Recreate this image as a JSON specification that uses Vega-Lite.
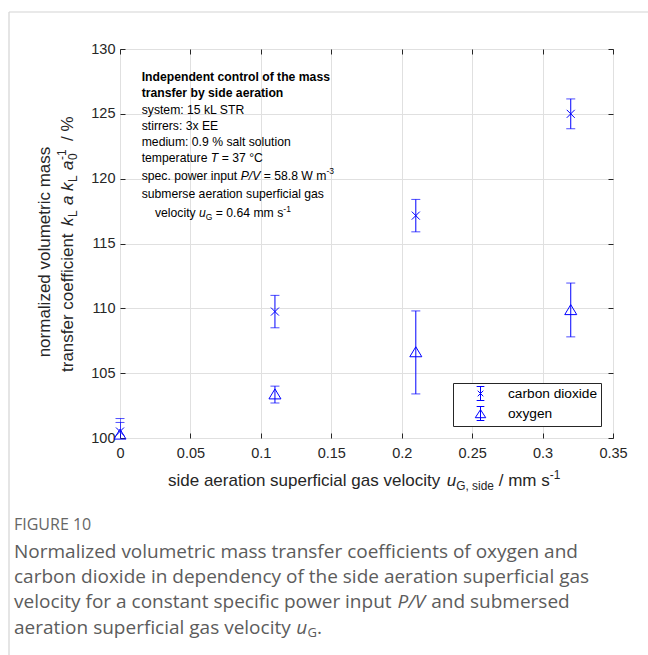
{
  "$schema": "https://vega.github.io/schema/vega-lite/v6.json",
  "width": 493,
  "height": 389,
  "autosize": {"type": "none"},
  "padding": {"left": 120, "top": 49, "right": 35, "bottom": 217},
  "background": "white",
  "config": {"view": {"stroke": "#262626", "strokeWidth": 1}, "font": "Liberation Sans"},
  "datasets": {
    "pts": [
      {"gas": "carbon dioxide", "x": 0, "y": 100.5, "lo": 99.5, "hi": 101.5},
      {"gas": "carbon dioxide", "x": 0.11, "y": 109.75, "lo": 108.5, "hi": 111.0},
      {"gas": "carbon dioxide", "x": 0.21, "y": 117.15, "lo": 115.9, "hi": 118.4},
      {"gas": "carbon dioxide", "x": 0.32, "y": 125.0, "lo": 123.85, "hi": 126.15},
      {"gas": "oxygen", "x": 0, "y": 100.3, "lo": 99.4, "hi": 101.2},
      {"gas": "oxygen", "x": 0.11, "y": 103.4, "lo": 102.7, "hi": 104.0},
      {"gas": "oxygen", "x": 0.21, "y": 106.65, "lo": 103.4, "hi": 109.8},
      {"gas": "oxygen", "x": 0.32, "y": 109.9, "lo": 107.8, "hi": 111.95}
    ],
    "frame": [
      {"x": -0.0788, "x2": 0.37485, "y": 132.853, "y2": 132.853},
      {"x": -0.0788, "x2": -0.0788, "y": 132.853, "y2": 83.266}
    ],
    "ann_bold": [
      {"x": 0.01541, "y": 127.84, "t": "Independent control of the mass"},
      {"x": 0.01541, "y": 126.61, "t": "transfer by side aeration"}
    ],
    "ann_reg": [
      {"x": 0.01541, "y": 125.30, "t": "system: 15 kL STR"},
      {"x": 0.01541, "y": 124.06, "t": "stirrers: 3x EE"},
      {"x": 0.01541, "y": 122.83, "t": "medium: 0.9 % salt solution"},
      {"x": 0.01541, "y": 121.59, "t": "temperature"},
      {"x": 0.07220, "y": 121.59, "t": "= 37 °C"},
      {"x": 0.01541, "y": 120.21, "t": "spec. power input"},
      {"x": 0.10206, "y": 120.21, "t": "= 58.8 W m"},
      {"x": 0.01541, "y": 118.82, "t": "submerse aeration superficial gas"},
      {"x": 0.02485, "y": 117.35, "t": "velocity"},
      {"x": 0.06804, "y": 117.35, "t": "= 0.64 mm s"}
    ],
    "ann_it": [
      {"x": 0.06451, "y": 121.59, "t": "T"},
      {"x": 0.08569, "y": 120.21, "t": "P/V"},
      {"x": 0.05613, "y": 117.35, "t": "u"}
    ],
    "ann_sub": [
      {"x": 0.06094, "y": 117.35, "t": "G"}
    ],
    "ann_sup": [
      {"x": 0.14657, "y": 120.21, "t": "-3"},
      {"x": 0.11593, "y": 117.35, "t": "-1"}
    ],
    "xt_reg": [
      {"x": 0.03408, "y": 96.685, "t": "side aeration superficial gas velocity"},
      {"x": 0.26885, "y": 96.685, "t": "/ mm s"}
    ],
    "xt_it": [{"x": 0.23201, "y": 96.685, "t": "u"}],
    "xt_sub": [{"x": 0.23872, "y": 96.685, "t": "G, side"}],
    "xt_sup": [{"x": 0.30506, "y": 96.685, "t": "-1"}],
    "yt_reg": [
      {"x": -0.05325, "y": 106.22, "t": "normalized volumetric mass"},
      {"x": -0.03692, "y": 105.09, "t": "transfer coefficient"},
      {"x": -0.03692, "y": 122.91, "t": "/ %"}
    ],
    "yt_it": [
      {"x": -0.03692, "y": 116.35, "t": "k"},
      {"x": -0.03692, "y": 117.97, "t": "a"},
      {"x": -0.03692, "y": 119.05, "t": "k"},
      {"x": -0.03692, "y": 120.67, "t": "a"}
    ],
    "yt_sub": [
      {"x": -0.03692, "y": 117.04, "t": "L"},
      {"x": -0.03692, "y": 119.74, "t": "L"},
      {"x": -0.03692, "y": 121.44, "t": "0"}
    ],
    "yt_sup": [
      {"x": -0.03692, "y": 121.44, "t": "-1"}
    ],
    "cap_fig": [{"x": -0.07525, "y": 93.29, "t": "FIGURE 10"}],
    "cap_reg": [
      {"x": -0.07525, "y": 91.21, "t": "Normalized volumetric mass transfer coefficients of oxygen and"},
      {"x": -0.07525, "y": 89.28, "t": "carbon dioxide in dependency of the side aeration superficial gas"},
      {"x": -0.07525, "y": 87.35, "t": "velocity for a constant specific power input"},
      {"x": 0.22094, "y": 87.35, "t": "and submersed"},
      {"x": -0.07525, "y": 85.35, "t": "aeration superficial gas velocity"},
      {"x": 0.13993, "y": 85.35, "t": "."}
    ],
    "cap_it": [
      {"x": 0.19694, "y": 87.35, "t": "P/V"},
      {"x": 0.12509, "y": 85.35, "t": "u"}
    ],
    "cap_sub": [{"x": 0.13319, "y": 85.35, "t": "G"}]
  },
  "resolve": {"axis": {"x": "independent", "y": "independent"}, "scale": {"shape": "independent"}, "legend": {"shape": "independent"}},
  "encoding": {
    "x": {"field": "x", "type": "quantitative", "scale": {"domain": [0, 0.35], "nice": false, "zero": false}, "axis": null},
    "y": {"field": "y", "type": "quantitative", "scale": {"domain": [100, 130], "nice": false, "zero": false}, "axis": null}
  },
  "layer": [
    {
      "data": {"name": "frame"},
      "mark": {"type": "rule", "color": "#d4d4d4", "strokeWidth": 1.2},
      "encoding": {"x2": {"field": "x2"}, "y2": {"field": "y2"}}
    },
    {
      "data": {"name": "pts"},
      "mark": {"type": "rule", "color": "#0000ff", "strokeWidth": 1, "clip": true},
      "encoding": {
        "x": {"field": "x", "type": "quantitative", "scale": {"domain": [0, 0.35], "nice": false, "zero": false},
          "axis": {"orient": "top", "offset": -389, "values": [0, 0.05, 0.1, 0.15, 0.2, 0.25, 0.3, 0.35], "labels": false, "grid": false, "domain": false, "ticks": true, "tickSize": 5, "tickColor": "#262626", "title": null}},
        "y": {"field": "lo", "type": "quantitative", "scale": {"domain": [100, 130], "nice": false, "zero": false},
          "axis": {"orient": "right", "offset": -493, "values": [100, 105, 110, 115, 120, 125, 130], "labels": false, "grid": false, "domain": false, "ticks": true, "tickSize": 5, "tickColor": "#262626", "title": null}},
        "y2": {"field": "hi"}
      }
    },
    {
      "data": {"name": "pts"},
      "mark": {"type": "tick", "orient": "horizontal", "color": "#0000ff", "size": 9, "thickness": 1, "clip": true},
      "encoding": {"y": {"field": "lo", "type": "quantitative", "scale": {"domain": [100, 130], "nice": false, "zero": false}, "axis": null}}
    },
    {
      "data": {"name": "pts"},
      "mark": {"type": "tick", "orient": "horizontal", "color": "#0000ff", "size": 9, "thickness": 1},
      "encoding": {
        "x": {"field": "x", "type": "quantitative", "scale": {"domain": [0, 0.35], "nice": false, "zero": false},
          "axis": {"orient": "bottom", "offset": -389, "values": [0, 0.05, 0.1, 0.15, 0.2, 0.25, 0.3, 0.35], "labels": false, "grid": false, "domain": false, "ticks": true, "tickSize": 5, "tickColor": "#262626", "title": null}},
        "y": {"field": "hi", "type": "quantitative", "scale": {"domain": [100, 130], "nice": false, "zero": false},
          "axis": {"orient": "left", "offset": -493, "values": [100, 105, 110, 115, 120, 125, 130], "labels": false, "grid": false, "domain": false, "ticks": true, "tickSize": 5, "tickColor": "#262626", "title": null}}
      }
    },
    {
      "data": {"name": "pts"},
      "mark": {"type": "point", "filled": false, "color": "#0000ff", "strokeWidth": 1, "size": 144, "opacity": 1},
      "encoding": {
        "x": {"field": "x", "type": "quantitative", "scale": {"domain": [0, 0.35], "nice": false, "zero": false},
          "axis": {"orient": "bottom", "values": [0, 0.05, 0.1, 0.15, 0.2, 0.25, 0.3, 0.35], "format": "~g", "title": null, "grid": true, "gridColor": "#e0e0e0", "domain": false, "ticks": false, "labelPadding": 8, "labelFont": "Liberation Sans", "labelFontSize": 14.5, "labelColor": "#262626", "labelFlush": false}},
        "y": {"field": "y", "type": "quantitative", "scale": {"domain": [100, 130], "nice": false, "zero": false},
          "axis": {"orient": "left", "values": [100, 105, 110, 115, 120, 125, 130], "format": "d", "title": null, "grid": true, "gridColor": "#e0e0e0", "domain": false, "ticks": false, "labelPadding": 5, "labelFont": "Liberation Sans", "labelFontSize": 14.5, "labelColor": "#262626", "labelFlush": false}},
        "shape": {
          "field": "gas", "type": "nominal",
          "scale": {"domain": ["carbon dioxide", "oxygen"], "range": ["M-0.67,-0.67L0.67,0.67M-0.67,0.67L0.67,-0.67", "M0,-0.83L1,0.83L-1,0.83Z"]},
          "legend": null
        }
      }
    },
    {
      "data": {"name": "pts"},
      "transform": [{"filter": "datum.x < 0"}],
      "mark": {"type": "point", "filled": false, "color": "#0000ff", "strokeWidth": 1, "opacity": 1},
      "encoding": {
        "shape": {
          "field": "gas", "type": "nominal",
          "scale": {"domain": ["carbon dioxide", "oxygen"], "range": [
            "M0,-1L0,1M-0.55,-1L0.55,-1M-0.55,1L0.55,1M-0.4,-0.4L0.4,0.4M-0.4,0.4L0.4,-0.4",
            "M0,-1L0,1M-0.55,-1L0.55,-1M-0.55,1L0.55,1M0,-0.55L0.75,0.6L-0.75,0.6Z"]},
          "legend": {
            "title": null, "orient": "bottom-right", "offset": 12, "padding": 3,
            "strokeColor": "#262626", "fillColor": "white", "cornerRadius": 0,
            "labelFont": "Liberation Sans", "labelFontSize": 13.7, "labelColor": "#000000",
            "symbolOffset": 17, "labelOffset": 20, "rowPadding": 1, "symbolSize": 196,
            "symbolStrokeWidth": 1, "symbolStrokeColor": "#0000ff", "symbolFillColor": "transparent", "symbolOpacity": 1
          }
        }
      }
    },
    {"data": {"name": "ann_bold"}, "mark": {"type": "text", "align": "left", "baseline": "middle", "font": "Liberation Sans", "fontSize": 12.2, "fontWeight": "bold", "color": "#000000"}, "encoding": {"text": {"field": "t"}}},
    {"data": {"name": "ann_reg"}, "mark": {"type": "text", "align": "left", "baseline": "middle", "font": "Liberation Sans", "fontSize": 12.2, "color": "#000000"}, "encoding": {"text": {"field": "t"}}},
    {"data": {"name": "ann_it"}, "mark": {"type": "text", "align": "left", "baseline": "middle", "font": "Liberation Sans", "fontSize": 12.2, "fontStyle": "italic", "color": "#000000"}, "encoding": {"text": {"field": "t"}}},
    {"data": {"name": "ann_sub"}, "mark": {"type": "text", "align": "left", "baseline": "middle", "font": "Liberation Sans", "fontSize": 8.5, "dy": 3.5, "color": "#000000"}, "encoding": {"text": {"field": "t"}}},
    {"data": {"name": "ann_sup"}, "mark": {"type": "text", "align": "left", "baseline": "middle", "font": "Liberation Sans", "fontSize": 8.5, "dy": -4.5, "color": "#000000"}, "encoding": {"text": {"field": "t"}}},
    {"data": {"name": "xt_reg"}, "mark": {"type": "text", "align": "left", "baseline": "middle", "font": "Liberation Sans", "fontSize": 17, "color": "#262626"}, "encoding": {"text": {"field": "t"}}},
    {"data": {"name": "xt_it"}, "mark": {"type": "text", "align": "left", "baseline": "middle", "font": "Liberation Sans", "fontSize": 17, "fontStyle": "italic", "color": "#262626"}, "encoding": {"text": {"field": "t"}}},
    {"data": {"name": "xt_sub"}, "mark": {"type": "text", "align": "left", "baseline": "middle", "font": "Liberation Sans", "fontSize": 11.9, "dy": 5, "color": "#262626"}, "encoding": {"text": {"field": "t"}}},
    {"data": {"name": "xt_sup"}, "mark": {"type": "text", "align": "left", "baseline": "middle", "font": "Liberation Sans", "fontSize": 11.9, "dy": -6, "color": "#262626"}, "encoding": {"text": {"field": "t"}}},
    {"data": {"name": "yt_reg"}, "mark": {"type": "text", "align": "left", "baseline": "middle", "angle": 270, "font": "Liberation Sans", "fontSize": 17, "color": "#262626"}, "encoding": {"text": {"field": "t"}}},
    {"data": {"name": "yt_it"}, "mark": {"type": "text", "align": "left", "baseline": "middle", "angle": 270, "font": "Liberation Sans", "fontSize": 17, "fontStyle": "italic", "color": "#262626"}, "encoding": {"text": {"field": "t"}}},
    {"data": {"name": "yt_sub"}, "mark": {"type": "text", "align": "left", "baseline": "middle", "angle": 270, "font": "Liberation Sans", "fontSize": 11.9, "dy": 5, "color": "#262626"}, "encoding": {"text": {"field": "t"}}},
    {"data": {"name": "yt_sup"}, "mark": {"type": "text", "align": "left", "baseline": "middle", "angle": 270, "font": "Liberation Sans", "fontSize": 11.9, "dy": -6, "color": "#262626"}, "encoding": {"text": {"field": "t"}}},
    {"data": {"name": "cap_fig"}, "mark": {"type": "text", "align": "left", "baseline": "middle", "font": "Open Sans", "fontSize": 16, "color": "#666666"}, "encoding": {"text": {"field": "t"}}},
    {"data": {"name": "cap_reg"}, "mark": {"type": "text", "align": "left", "baseline": "middle", "font": "Open Sans", "fontSize": 19, "color": "#5c5c5c"}, "encoding": {"text": {"field": "t"}}},
    {"data": {"name": "cap_it"}, "mark": {"type": "text", "align": "left", "baseline": "middle", "font": "Open Sans", "fontSize": 19, "fontStyle": "italic", "color": "#5c5c5c"}, "encoding": {"text": {"field": "t"}}},
    {"data": {"name": "cap_sub"}, "mark": {"type": "text", "align": "left", "baseline": "middle", "font": "Open Sans", "fontSize": 13, "dy": 5, "color": "#5c5c5c"}, "encoding": {"text": {"field": "t"}}}
  ]
}
